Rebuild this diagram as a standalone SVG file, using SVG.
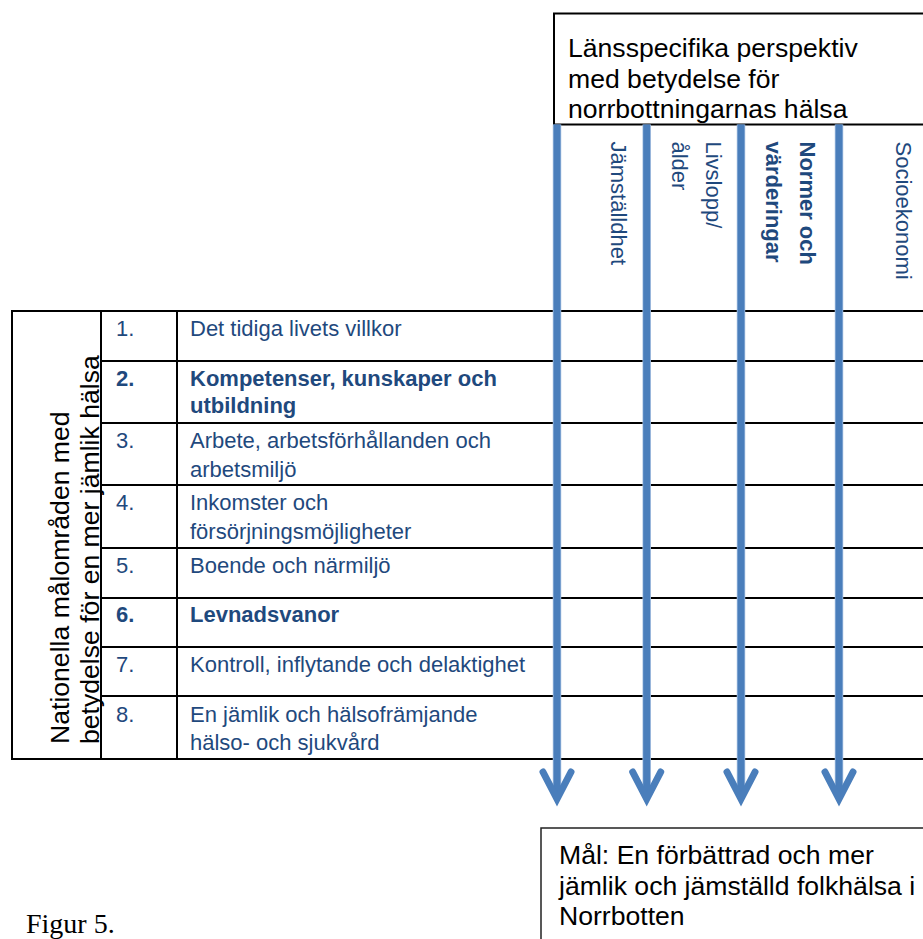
<svg xmlns="http://www.w3.org/2000/svg" width="923" height="939" viewBox="0 0 923 939">
<defs>
<style>
.blk{font-family:'Liberation Sans',Arial,sans-serif;font-size:26.6px;fill:#000}
.blu{font-family:'Liberation Sans',Arial,sans-serif;font-size:22px;fill:#1F497D}
.b{font-weight:bold}
.ln{stroke:#000;stroke-width:2;fill:none}
.shaft{stroke:#4A7EBB;stroke-width:7;fill:none}
.edge{stroke:#A9C3E3;stroke-width:8.5;fill:none}
.head{stroke:#4A7EBB;stroke-width:7;fill:none;stroke-linecap:round;stroke-linejoin:miter}
</style>
</defs>
<rect width="923" height="939" fill="#fff"/>

<g id="top-box">
<rect x="554" y="13.5" width="400" height="111" class="ln"/>
<text class="blk" x="568" y="57">Länsspecifika perspektiv</text>
<text class="blk" x="568" y="87.7">med betydelse för</text>
<text class="blk" x="568" y="118.4">norrbottningarnas hälsa</text>
</g>

<g id="table">
<rect x="12" y="311" width="89" height="448" class="ln"/>
<path class="ln" d="M101 311H923M101 361H923M101 423H923M101 485H923M101 548H923M101 598H923M101 647H923M101 696H923M101 759H923M177 311V759"/>
</g>

<g id="left-label">
<text class="blk" transform="translate(0,744) rotate(-90)"><tspan x="0" y="68.5">Nationella målområden med</tspan><tspan x="0" y="99">betydelse för en mer jämlik hälsa</tspan></text>
</g>

<g id="row1"><text class="blu" x="116" y="336">1.</text><text class="blu" x="190" y="336">Det tidiga livets villkor</text></g>
<g id="row2"><text class="blu b" x="116" y="386">2.</text><text class="blu b" x="190" y="386">Kompetenser, kunskaper och</text><text class="blu b" x="190" y="413">utbildning</text></g>
<g id="row3"><text class="blu" x="116" y="447.5">3.</text><text class="blu" x="190" y="447.5">Arbete, arbetsförhållanden och</text><text class="blu" x="190" y="476.5">arbetsmiljö</text></g>
<g id="row4"><text class="blu" x="116" y="510">4.</text><text class="blu" x="190" y="510">Inkomster och</text><text class="blu" x="190" y="539">försörjningsmöjligheter</text></g>
<g id="row5"><text class="blu" x="116" y="572.5">5.</text><text class="blu" x="190" y="572.5">Boende och närmiljö</text></g>
<g id="row6"><text class="blu b" x="116" y="622">6.</text><text class="blu b" x="190" y="622">Levnadsvanor</text></g>
<g id="row7"><text class="blu" x="116" y="671.5">7.</text><text class="blu" x="190" y="671.5">Kontroll, inflytande och delaktighet</text></g>
<g id="row8"><text class="blu" x="116" y="721.5">8.</text><text class="blu" x="190" y="721.5">En jämlik och hälsofrämjande</text><text class="blu" x="190" y="750">hälso- och sjukvård</text></g>

<g id="connectors">
<path class="edge" d="M557 124.5V796M646.7 124.5V796M741 124.5V796M839 124.5V796"/>
<path class="shaft" d="M557 124.5V798M646.7 124.5V798M741 124.5V798M839 124.5V798"/>
<polyline class="head" points="543,772 557,799 571,772"/>
<polyline class="head" points="632.7,772 646.7,799 660.7,772"/>
<polyline class="head" points="727,772 741,799 755,772"/>
<polyline class="head" points="825,772 839,799 853,772"/>
</g>

<g id="col-jamstalldhet"><text class="blu" transform="translate(611,141.5) rotate(90)">Jämställdhet</text></g>
<g id="col-livslopp"><text class="blu" transform="translate(706,141.5) rotate(90)"><tspan x="0" y="0">Livslopp/</tspan><tspan x="0" y="34">ålder</tspan></text></g>
<g id="col-normer"><text class="blu b" transform="translate(800,141.5) rotate(90)"><tspan x="0" y="0">Normer och</tspan><tspan x="0" y="34">värderingar</tspan></text></g>
<g id="col-socioekonomi"><text class="blu" transform="translate(896,141.5) rotate(90)">Socioekonomi</text></g>

<g id="goal-box">
<rect x="541" y="828" width="420" height="140" fill="none" stroke="#222" stroke-width="1.5"/>
<text class="blk" x="559" y="864">Mål: En förbättrad och mer</text>
<text class="blk" x="559" y="894.7">jämlik och jämställd folkhälsa i</text>
<text class="blk" x="559" y="925.4">Norrbotten</text>
</g>

<g id="caption">
<text x="26" y="933" font-family="'Liberation Serif','Times New Roman',serif" font-size="28" fill="#000">Figur 5.</text>
</g>
</svg>
